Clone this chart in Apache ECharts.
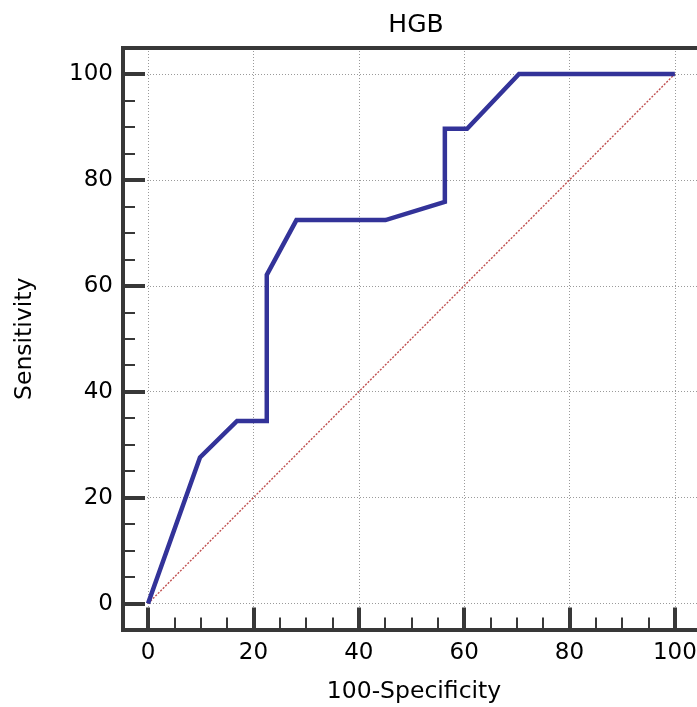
<!DOCTYPE html>
<html>
<head>
<meta charset="utf-8">
<script src="https://cdn.jsdelivr.net/npm/echarts@6/dist/echarts.min.js"></script>
<style>html,body{margin:0;padding:0;background:#fff;}#c{width:697px;height:707px;}</style>
</head>
<body>
<div id="c"></div>
<script>
const chartTitle = 'HGB';
const xName = '100-Specificity';
const yName = 'Sensitivity';
const rocX = [0, 9.86, 16.90, 22.54, 22.54, 28.17, 45.07, 56.34, 56.34, 60.56, 70.42, 100];
const rocY = [0, 27.59, 34.48, 34.48, 62.07, 72.41, 72.41, 75.86, 89.66, 89.66, 100, 100];
const refX = [0, 100];
const refY = [0, 100];
const majorTicks = [0, 20, 40, 60, 80, 100];
const minorTicks = [5, 10, 15, 25, 30, 35, 45, 50, 55, 65, 70, 75, 85, 90, 95];

const FONT = 'DejaVu Sans, sans-serif';
const frameColor = '#383838';
const xMin = -4.75, xMax = 104.2, yMin = -4.9, yMax = 104.9;

function majorAxis(min, max, isX) {
  return {
    type: 'value', min: min, max: max, gridIndex: 0,
    position: isX ? 'bottom' : 'left',
    axisLine: { show: true, onZero: false, lineStyle: { color: frameColor, width: 4, cap: 'square' } },
    axisTick: { show: true, inside: true, length: 22, lineStyle: { color: frameColor, width: 4 }, customValues: majorTicks },
    axisLabel: { show: true, customValues: majorTicks, fontFamily: FONT, fontSize: 23, color: '#000', margin: isX ? 12 : 10 },
    splitLine: { show: true, lineStyle: { color: '#9a9a9a', width: 1, type: [1, 2] } },
    name: isX ? '' : yName,
    nameLocation: 'middle', nameGap: 86, nameRotate: 90,
    nameTextStyle: { fontFamily: FONT, fontSize: 23.5, color: '#000' }
  };
}
function minorAxis(min, max, isX) {
  return {
    type: 'value', min: min, max: max, gridIndex: 0,
    position: isX ? 'bottom' : 'left',
    axisLine: { show: false, onZero: false },
    axisTick: { show: true, inside: true, length: 12, lineStyle: { color: frameColor, width: 2 }, customValues: minorTicks },
    axisLabel: { show: false },
    splitLine: { show: false }
  };
}
function topFrameAxis(min, max) {
  return {
    type: 'value', min: min, max: max, gridIndex: 0, position: 'top',
    axisLine: { show: true, onZero: false, lineStyle: { color: frameColor, width: 4, cap: 'square' } },
    axisTick: { show: false }, axisLabel: { show: false }, splitLine: { show: false }
  };
}

const chart = echarts.init(document.getElementById('c'), null, { renderer: 'canvas' });
chart.setOption({
  animation: false,
  backgroundColor: '#fff',
  title: [
    { text: chartTitle, left: 411, top: 8, textAlign: 'center', textStyle: { fontFamily: FONT, fontSize: 25, fontWeight: 'normal', color: '#000' } },
    { text: xName, left: 409, top: 675, textAlign: 'center', textStyle: { fontFamily: FONT, fontSize: 23.5, fontWeight: 'normal', color: '#000' } }
  ],
  grid: { left: 123, top: 48, bottom: 77.5, right: 0, show: false, outerBoundsMode: 'none' },
  xAxis: [majorAxis(xMin, xMax, true), minorAxis(xMin, xMax, true), topFrameAxis(xMin, xMax)],
  yAxis: [majorAxis(yMin, yMax, false), minorAxis(yMin, yMax, false)],
  series: [
    {
      type: 'line', xAxisIndex: 0, yAxisIndex: 0, symbol: 'none', z: 3,
      data: refX.map((x, i) => [x, refY[i]]),
      lineStyle: { color: '#c05050', width: 1.4, type: [2, 1.5] }
    },
    {
      type: 'line', xAxisIndex: 0, yAxisIndex: 0, symbol: 'none', z: 4,
      data: rocX.map((x, i) => [x, rocY[i]]),
      lineStyle: { color: '#333399', width: 4.5, join: 'miter' }
    }
  ]
});
</script>
</body>
</html>
